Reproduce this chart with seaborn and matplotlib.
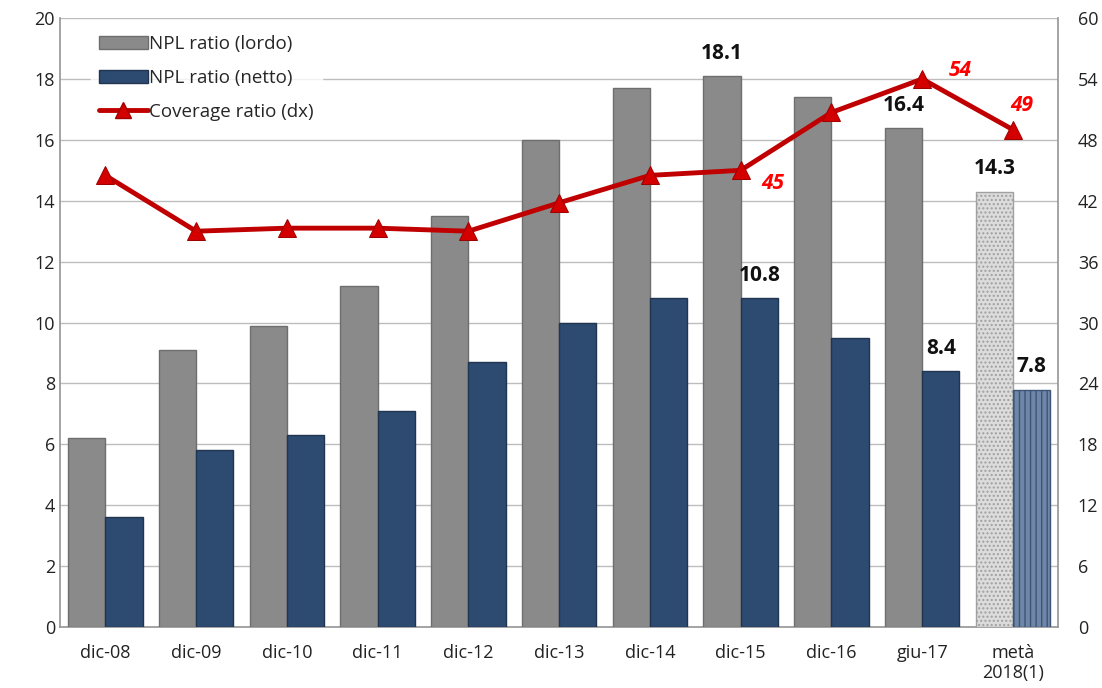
import matplotlib
matplotlib.use("Agg")
import matplotlib.pyplot as plt
import seaborn as sns
import pandas as pd
import numpy as np
from matplotlib.patches import Patch
from matplotlib.lines import Line2D

categories = ["dic-08", "dic-09", "dic-10", "dic-11", "dic-12", "dic-13",
              "dic-14", "dic-15", "dic-16", "giu-17", "metà\n2018(1)"]
npl_lordo = [6.2, 9.1, 9.9, 11.2, 13.5, 16.0, 17.7, 18.1, 17.4, 16.4, 14.3]
npl_netto = [3.6, 5.8, 6.3, 7.1, 8.7, 10.0, 10.8, 10.8, 9.5, 8.4, 7.8]
coverage = [44.5, 39.0, 39.3, 39.3, 39.0, 41.8, 44.5, 45.0, 50.7, 54.0, 49.0]

# categories whose values are written on the chart
lordo_labels = [7, 9, 10]
netto_labels = [7, 9, 10]
coverage_labels = [7, 9, 10]

sns.set_theme(style="white")
plt.rcParams["font.family"] = ["Open Sans", "DejaVu Sans"]

GREY = "#8a8a8a"
BLUE = "#2d4a70"
RED = "#c00000"

df = pd.DataFrame({
    "cat": categories * 2,
    "val": npl_lordo + npl_netto,
    "serie": ["NPL ratio (lordo)"] * len(categories) + ["NPL ratio (netto)"] * len(categories),
})

fig = plt.figure(figsize=(11.02, 6.88), dpi=100)
ax = fig.add_axes([0.0544, 0.0887, 0.906, 0.885])

sns.barplot(data=df, x="cat", y="val", hue="serie", order=categories,
            palette=[GREY, BLUE], width=0.82, saturation=1, ax=ax,
            legend=False, zorder=3)

n = len(categories)
grey_bars = ax.patches[:n]
blue_bars = ax.patches[n:2 * n]
for b in grey_bars:
    b.set_edgecolor("#6e6e6e")
    b.set_linewidth(1.0)
for b in blue_bars:
    b.set_edgecolor("#1f3550")
    b.set_linewidth(1.0)

# projected values: patterned fills
g = grey_bars[-1]
g.set_facecolor("#dcdcdc")
g.set_edgecolor("#a0a0a0")
g.set_hatch("....")
bl = blue_bars[-1]
bl.set_facecolor("#6f86a6")
bl.set_edgecolor("#3d5578")
bl.set_hatch("|||")

ax.set_ylim(0, 20)
ax.set_yticks(np.arange(0, 21, 2))
ax.set_xlim(-0.5, n - 0.5)
ax.set_xlabel("")
ax.set_ylabel("")
ax.grid(axis="y", color="#bdbdbd", linewidth=1.0, zorder=0)
ax.set_axisbelow(True)
ax.tick_params(axis="both", labelsize=13, colors="#222222", length=0)
ax.tick_params(axis="x", pad=12)
ax.set_xticks(np.arange(n - 1) + 0.5, minor=True)
ax.tick_params(axis="x", which="minor", length=5, color="#999999", direction="out")
for s in ["left", "right", "bottom"]:
    ax.spines[s].set_color("#999999")
ax.spines["top"].set_visible(False)

# value labels on bars
for i in lordo_labels:
    b = grey_bars[i]
    ax.text(b.get_x() + b.get_width() / 2, npl_lordo[i] + 0.4, f"{npl_lordo[i]:.1f}",
            ha="center", va="bottom", fontsize=15, fontweight="bold", color="#111111", zorder=5)
for i in netto_labels:
    b = blue_bars[i]
    ax.text(b.get_x() + b.get_width() / 2, npl_netto[i] + 0.4, f"{npl_netto[i]:.1f}",
            ha="center", va="bottom", fontsize=15, fontweight="bold", color="#111111", zorder=5)

# coverage ratio on the right axis
ax2 = ax.twinx()
ax2.set_ylim(0, 60)
ax2.set_yticks(np.arange(0, 61, 6))
ax2.tick_params(axis="y", labelsize=13, colors="#222222", length=0, pad=14)
for s in ax2.spines.values():
    s.set_visible(False)
xs = np.arange(n)
sns.lineplot(x=xs, y=coverage, ax=ax2, color=RED, linewidth=3.5, marker="^",
             markersize=13, markerfacecolor="#d40000", markeredgecolor="#a00000",
             legend=False, zorder=6)
ax2.grid(False)

offsets = {7: (0.35, -1.3), 9: (0.42, 0.8), 10: (0.10, 2.4)}
for i in coverage_labels:
    dx, dy = offsets[i]
    ax2.text(xs[i] + dx, coverage[i] + dy, f"{coverage[i]:.0f}", ha="center", va="center",
             fontsize=15, fontweight="bold", fontstyle="italic", color="#ff0000")

handles = [
    Patch(facecolor=GREY, edgecolor="#6e6e6e", label="NPL ratio (lordo)"),
    Patch(facecolor=BLUE, edgecolor="#1f3550", label="NPL ratio (netto)"),
    Line2D([0], [0], color=RED, linewidth=3.5, marker="^", markersize=12,
           markerfacecolor="#d40000", markeredgecolor="#a00000", label="Coverage ratio (dx)"),
]
leg = ax.legend(handles=handles, loc="upper left", bbox_to_anchor=(0.022, 1.0),
                frameon=True, fontsize=13.5, handlelength=2.6, handleheight=0.7,
                labelspacing=0.85, handletextpad=0.1, borderpad=0.4)
leg.get_frame().set_facecolor("white")
leg.get_frame().set_edgecolor("white")
leg.set_zorder(10)

fig.savefig("out.png", dpi=100, facecolor="white")
